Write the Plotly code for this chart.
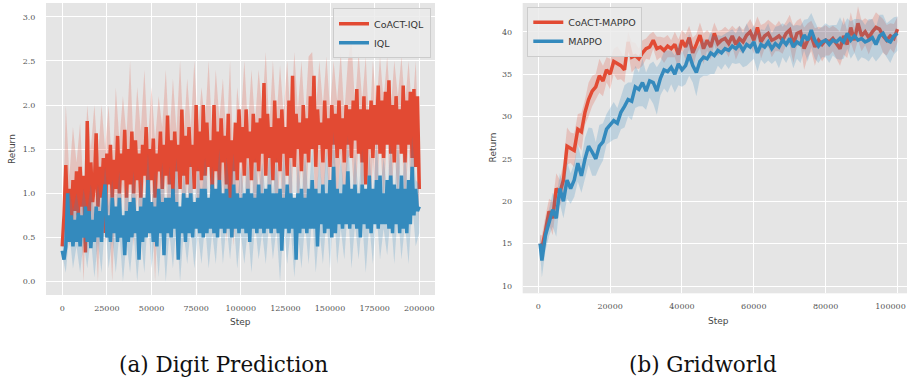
import plotly.graph_objects as go

# ---------------- Panel (a): Digit Prediction ----------------
dp_steps = [i * 1000 for i in range(201)]       # line samples
dp_band_steps = [i * 2000 for i in range(101)]  # band samples

coact_iql_mean = [
    0.40, 0.75, 1.32, 0.70, 1.05, 0.62, 1.15, 0.80, 1.25, 0.75, 1.30, 0.85, 1.20, 0.33, 1.82, 0.70, 1.35, 0.90, 1.10, 1.68,
    0.85, 1.30, 0.95, 1.40, 0.55, 1.45, 1.10, 1.55, 0.95, 1.38, 1.05, 1.65, 1.00, 1.45, 1.15, 1.72, 0.95, 1.50, 1.10, 1.70,
    1.00, 1.60, 1.15, 1.45, 0.95, 1.55, 1.20, 1.75, 1.05, 1.50, 1.15, 1.62, 0.95, 1.45, 1.25, 1.70, 1.05, 1.55, 1.20, 1.88,
    1.10, 1.60, 1.00, 1.70, 1.25, 1.55, 1.05, 1.95, 1.20, 1.65, 1.10, 1.75, 1.30, 1.55, 1.05, 2.00, 1.25, 1.70, 1.15, 2.00,
    1.20, 1.80, 1.30, 1.60, 1.05, 2.00, 1.25, 1.70, 1.15, 1.85, 1.35, 1.65, 1.10, 1.90, 0.70, 1.60, 1.25, 1.80, 1.15, 1.95,
    1.35, 1.75, 1.20, 1.95, 1.40, 1.70, 1.15, 1.90, 1.35, 1.80, 1.25, 1.85, 1.45, 2.25, 1.20, 1.90, 1.40, 1.75, 1.15, 2.05,
    1.35, 1.85, 1.25, 1.95, 1.45, 1.75, 1.20, 2.05, 1.40, 2.33, 1.30, 1.90, 1.50, 1.80, 1.25, 2.00, 1.45, 1.85, 1.35, 2.10,
    1.50, 2.33, 1.30, 1.95, 1.55, 1.80, 1.35, 2.05, 1.50, 1.85, 1.30, 2.00, 1.55, 1.90, 1.40, 2.05, 1.50, 1.85, 1.35, 2.00,
    1.55, 1.95, 1.40, 2.05, 1.60, 2.18, 1.45, 1.95, 1.35, 2.10, 1.10, 1.95, 1.50, 2.05, 1.40, 2.00, 1.55, 2.22, 1.45, 2.05,
    1.40, 2.15, 1.55, 2.28, 1.45, 2.00, 1.35, 2.10, 1.55, 1.95, 1.45, 2.22, 1.35, 2.05, 1.55, 2.15, 1.40, 2.18, 1.30, 2.10,
    1.05,
]
coact_iql_upper = [
    0.45, 2.00, 1.20, 1.75, 1.35, 1.80, 1.00, 2.00, 1.50, 2.00,
    1.40, 2.00, 1.50, 2.00, 1.20, 2.20, 1.60, 2.10, 1.65, 2.50,
    1.50, 2.20, 1.70, 2.40, 1.60, 2.20, 1.60, 2.10, 1.75, 2.40,
    1.60, 2.30, 1.70, 2.50, 1.65, 2.30, 1.75, 2.50, 1.70, 2.20,
    1.80, 2.50, 1.65, 2.40, 1.85, 2.30, 1.60, 2.50, 1.30, 2.20,
    1.80, 2.50, 1.75, 2.40, 1.80, 2.40, 1.95, 2.60, 1.75, 2.50,
    1.85, 2.45, 1.90, 2.50, 1.80, 2.60, 1.95, 2.50, 1.85, 2.55,
    2.60, 1.90, 2.50, 2.00, 2.55, 1.95, 2.50, 2.05, 2.60, 1.90,
    2.50, 2.75, 2.00, 2.60, 2.05, 2.55, 1.70, 2.50, 2.00, 2.55,
    2.05, 2.55, 1.95, 2.50, 2.10, 2.55, 2.00, 2.50, 1.90, 2.50,
    1.40,
]
coact_iql_lower = [
    0.35, 0.70, 0.40, 0.60, 0.45, 0.75, 0.00, 1.30, 0.40, 0.80,
    0.00, 1.10, 0.45, 0.80, 0.00, 1.00, 0.50, 1.10, 0.55, 1.15,
    0.40, 1.00, 0.55, 1.20, 0.50, 1.05, 0.00, 1.05, 0.60, 1.20,
    0.45, 1.10, 0.55, 1.30, 0.50, 1.15, 0.60, 1.40, 0.55, 1.05,
    0.65, 1.45, 0.50, 1.25, 0.70, 1.15, 0.45, 1.35, 0.40, 1.00,
    0.65, 1.40, 0.60, 1.30, 0.65, 1.25, 0.80, 1.70, 0.60, 1.35,
    0.70, 1.30, 0.75, 1.35, 0.65, 1.75, 0.80, 1.40, 0.70, 1.45,
    1.75, 0.75, 1.40, 0.85, 1.45, 0.80, 1.35, 0.90, 1.45, 0.75,
    1.40, 1.45, 0.85, 1.60, 0.90, 1.50, 0.55, 1.40, 0.85, 1.65,
    0.90, 1.70, 0.80, 1.50, 0.95, 1.65, 0.85, 1.55, 0.75, 1.60,
    0.60,
]
iql_mean = [
    0.35, 0.25, 0.40, 1.00, 0.45, 0.75, 0.40, 0.70, 0.45, 0.78, 0.40, 0.75, 0.50, 0.85, 0.45, 0.80, 0.38, 0.70, 0.45, 0.85,
    0.50, 0.80, 0.45, 0.95, 1.10, 0.50, 0.75, 0.45, 0.95, 0.55, 0.85, 0.45, 0.95, 0.50, 0.75, 0.30, 0.80, 0.45, 0.90, 0.50,
    0.95, 0.55, 0.80, 0.25, 0.85, 0.45, 0.95, 0.50, 1.15, 0.55, 0.90, 0.45, 0.85, 0.40, 1.05, 0.55, 0.90, 0.30, 0.95, 0.55,
    0.95, 0.50, 1.05, 0.60, 0.90, 0.25, 0.85, 0.55, 1.00, 0.45, 0.95, 0.55, 1.00, 0.50, 0.90, 0.60, 0.95, 0.55, 1.05, 0.50,
    1.05, 0.55, 0.95, 0.60, 1.10, 0.55, 1.05, 0.50, 1.15, 0.60, 1.00, 0.55, 1.05, 0.60, 0.95, 0.50, 1.10, 0.60, 1.00, 0.55,
    0.95, 0.60, 1.00, 0.55, 1.05, 0.45, 1.00, 0.60, 0.95, 0.55, 1.10, 0.60, 1.00, 0.55, 1.05, 0.60, 1.10, 0.55, 1.00, 0.60,
    1.00, 0.55, 1.05, 0.35, 0.95, 0.60, 1.10, 0.55, 1.00, 0.60, 0.95, 0.25, 1.00, 0.55, 1.05, 0.60, 0.95, 0.55, 1.05, 0.60,
    1.15, 0.60, 1.05, 0.40, 1.00, 0.65, 1.10, 0.55, 1.00, 0.60, 1.15, 0.50, 1.30, 0.55, 1.05, 0.65, 1.00, 0.60, 1.10, 0.65,
    1.25, 0.60, 1.05, 0.65, 1.10, 0.60, 1.00, 0.50, 1.10, 0.65, 1.05, 0.60, 1.20, 0.55, 1.05, 0.65, 1.15, 0.60, 1.20, 0.65,
    1.00, 0.65, 1.15, 0.60, 1.20, 0.55, 1.10, 0.65, 1.05, 0.55, 1.20, 0.60, 1.05, 0.55, 1.15, 0.65, 1.30, 0.75, 1.05, 0.80,
    0.85,
]
iql_upper = [
    0.40, 0.60, 1.05, 0.80, 1.00, 0.75, 1.05, 0.80, 1.10, 0.75,
    1.10, 0.80, 1.30, 0.85, 1.15, 0.80, 1.25, 0.70, 1.10, 0.85,
    1.25, 0.70, 1.20, 0.80, 1.45, 0.85, 1.25, 0.80, 1.35, 0.75,
    1.30, 0.90, 1.40, 0.70, 1.25, 0.90, 1.35, 0.85, 1.30, 0.95,
    1.40, 0.90, 1.30, 0.95, 1.50, 0.90, 1.40, 1.00, 1.45, 0.90,
    1.30, 0.95, 1.40, 0.85, 1.40, 1.00, 1.35, 0.95, 1.45, 1.00,
    1.40, 0.80, 1.45, 0.95, 1.40, 0.70, 1.35, 0.95, 1.45, 0.95,
    1.55, 0.85, 1.40, 0.95, 1.50, 0.90, 1.70, 0.95, 1.40, 1.00,
    1.65, 0.90, 1.45, 1.00, 1.50, 0.85, 1.45, 0.95, 1.60, 1.00,
    1.40, 1.05, 1.55, 0.95, 1.60, 1.00, 1.45, 0.95, 1.65, 1.15,
    1.10,
]
iql_lower = [
    0.30, 0.10, 0.55, 0.15, 0.40, 0.10, 0.45, 0.15, 0.50, 0.05,
    0.45, 0.10, 0.70, 0.15, 0.50, 0.10, 0.55, 0.00, 0.45, 0.10,
    0.55, 0.00, 0.50, 0.10, 0.75, 0.15, 0.55, 0.05, 0.65, 0.00,
    0.55, 0.15, 0.65, 0.00, 0.55, 0.20, 0.60, 0.15, 0.55, 0.20,
    0.65, 0.15, 0.55, 0.20, 0.75, 0.20, 0.65, 0.25, 0.70, 0.15,
    0.55, 0.20, 0.60, 0.10, 0.65, 0.25, 0.55, 0.20, 0.70, 0.25,
    0.60, 0.00, 0.65, 0.20, 0.60, 0.05, 0.55, 0.15, 0.65, 0.20,
    0.75, 0.10, 0.60, 0.20, 0.70, 0.15, 0.90, 0.20, 0.60, 0.25,
    0.85, 0.15, 0.65, 0.25, 0.70, 0.10, 0.65, 0.20, 0.80, 0.25,
    0.60, 0.30, 0.75, 0.20, 0.80, 0.25, 0.65, 0.20, 0.90, 0.40,
    0.55,
]

# ---------------- Panel (b): Gridworld ----------------
gw_steps = [500] + [i * 1000 for i in range(1, 101)]

coact_mappo_mean = [
    15.0, 14.5, 16.5, 18.8, 18.0, 21.5, 21.0, 22.5, 26.5, 26.3,
    26.0, 28.5, 28.2, 30.5, 32.0, 33.0, 33.5, 34.8, 34.2, 35.5,
    35.0, 36.5, 36.3, 36.0, 35.5, 38.8, 37.0, 37.2, 36.8, 37.5,
    38.0, 38.2, 39.0, 38.0, 38.2, 37.8, 38.3, 38.0, 38.5, 37.3,
    39.0, 38.2, 39.3, 37.5, 38.5, 39.6, 38.0, 39.0, 38.2, 39.8,
    38.6, 39.0, 39.2, 38.6, 39.5, 38.5, 39.2, 38.8, 39.6, 40.0,
    39.0, 40.5, 38.8, 39.5, 39.8, 39.0, 39.2, 39.5, 39.0, 39.8,
    40.2, 38.5, 39.8, 40.0, 38.0, 39.0, 39.5, 38.2, 39.0, 38.5,
    39.0, 38.8, 39.2, 38.6, 38.0, 39.5, 38.5, 40.5, 39.0, 41.0,
    39.5, 40.0, 39.3, 40.0, 40.5, 40.3, 39.5, 39.0, 39.5, 39.2,
    40.3,
]
coact_mappo_spread = [
    1.0, 1.5, 1.8, 1.5, 2.0, 1.8, 1.5, 2.0, 2.2, 1.8,
    2.0, 1.8, 2.2, 1.5, 2.0, 1.8, 1.5, 2.0, 1.8, 1.5,
    1.8, 1.5, 2.0, 1.6, 1.5, 1.2, 1.8, 1.5, 1.2, 1.5,
    1.2, 1.5, 1.0, 1.4, 1.2, 1.5, 1.3, 1.0, 1.5, 1.8,
    1.2, 1.5, 1.4, 1.8, 1.2, 1.5, 1.8, 1.2, 1.5, 1.3,
    1.5, 1.2, 1.4, 1.6, 1.2, 1.8, 1.5, 1.4, 1.2, 1.5,
    1.6, 1.3, 2.0, 1.5, 1.6, 2.0, 1.5, 1.8, 1.6, 1.4,
    1.8, 2.2, 1.5, 1.6, 2.5, 2.0, 1.8, 2.2, 1.6, 2.0,
    1.8, 1.6, 1.5, 1.8, 2.0, 2.2, 1.6, 1.8, 1.5, 2.0,
    1.8, 1.6, 2.0, 1.5, 1.8, 1.6, 2.0, 1.8, 1.5, 1.7,
    1.5,
]
mappo_mean = [
    15.0, 13.0, 16.0, 17.5, 19.0, 18.0, 21.5, 20.0, 22.5, 21.5,
    22.5, 24.5, 23.0, 25.0, 26.5, 25.8, 25.0, 26.5, 27.0, 28.5,
    29.0, 29.5, 29.2, 30.5, 31.2, 32.0, 31.8, 33.5, 33.2, 34.0,
    33.0, 34.2, 34.0, 33.0, 34.5, 35.5, 35.3, 35.8, 35.0, 36.2,
    35.5, 36.0, 37.3, 36.0, 35.2, 36.5, 37.0, 36.8, 37.5, 37.2,
    37.8, 37.5, 38.0, 37.8, 38.3, 38.0, 38.5, 37.8, 38.5, 38.2,
    38.8, 37.5, 38.5, 38.2, 38.8, 38.0, 38.6, 38.2, 39.0, 38.5,
    39.2, 38.2, 38.8, 38.5, 39.6, 39.0, 40.2, 39.0, 38.3, 38.8,
    39.0, 38.5, 39.0, 38.8, 39.2, 38.8, 39.8, 39.0, 39.5, 39.0,
    39.2, 38.8, 39.0, 39.3, 38.5, 39.5, 39.8, 39.0, 38.8, 39.5,
    39.8,
]
mappo_spread = [
    1.2, 2.0, 1.8, 1.6, 2.0, 2.2, 1.8, 2.0, 2.2, 1.8,
    2.0, 2.2, 2.0, 2.5, 2.2, 2.8, 2.0, 2.5, 2.2, 1.8,
    2.0, 2.2, 1.8, 2.0, 2.5, 2.0, 2.2, 2.5, 2.0, 2.8,
    2.2, 2.0, 2.5, 2.8, 2.0, 2.2, 2.5, 2.0, 2.2, 2.5,
    2.0, 2.2, 2.5, 2.0, 2.8, 2.0, 2.2, 2.0, 2.5, 2.2,
    1.8, 2.0, 1.8, 2.2, 2.0, 1.8, 2.2, 2.0, 2.5, 1.8,
    2.0, 2.2, 1.8, 2.0, 2.2, 1.8, 2.0, 2.5, 2.0, 2.2,
    2.0, 2.5, 2.0, 2.2, 1.8, 2.5, 2.0, 2.2, 2.0, 1.8,
    2.0, 2.2, 1.8, 2.0, 2.5, 2.0, 1.8, 2.2, 2.0, 2.5,
    2.2, 2.0, 2.5, 2.2, 2.0, 2.5, 2.2, 2.0, 2.5, 2.2,
    2.0,
]

dp_xticks = [0, 25000, 50000, 75000, 100000, 125000, 150000, 175000, 200000]
dp_yticks = [0.0, 0.5, 1.0, 1.5, 2.0, 2.5, 3.0]
gw_xticks = [0, 20000, 40000, 60000, 80000, 100000]
gw_last_xtick = [100000]
gw_yticks = [10, 15, 20, 25, 30, 35, 40]

RED = "#E24A33"
BLUE = "#348ABD"
RED_BAND = "rgba(226,74,51,0.22)"
BLUE_BAND = "rgba(52,138,189,0.22)"

W, H = 907, 379
fig = go.Figure()


def band(x, lo, hi, color, xa, ya):
    fig.add_trace(go.Scatter(x=x, y=hi, mode="lines", line=dict(width=0),
                             hoverinfo="skip", showlegend=False, xaxis=xa, yaxis=ya))
    fig.add_trace(go.Scatter(x=x, y=lo, mode="lines", line=dict(width=0),
                             fill="tonexty", fillcolor=color,
                             hoverinfo="skip", showlegend=False, xaxis=xa, yaxis=ya))


# Panel (a)
band(dp_band_steps, coact_iql_lower, coact_iql_upper, RED_BAND, "x", "y")
fig.add_trace(go.Scatter(x=dp_steps, y=coact_iql_mean, mode="lines", name="CoACT-IQL",
                         line=dict(color=RED, width=3.5), legend="legend"))
band(dp_band_steps, iql_lower, iql_upper, BLUE_BAND, "x", "y")
fig.add_trace(go.Scatter(x=dp_steps, y=iql_mean, mode="lines", name="IQL",
                         line=dict(color=BLUE, width=3.5), legend="legend"))

# Panel (b)
band(gw_steps, [m - s for m, s in zip(coact_mappo_mean, coact_mappo_spread)],
     [m + s for m, s in zip(coact_mappo_mean, coact_mappo_spread)], RED_BAND, "x2", "y2")
fig.add_trace(go.Scatter(x=gw_steps, y=coact_mappo_mean, mode="lines", name="CoACT-MAPPO",
                         line=dict(color=RED, width=3.5), xaxis="x2", yaxis="y2", legend="legend2"))
band(gw_steps, [m - s for m, s in zip(mappo_mean, mappo_spread)],
     [m + s for m, s in zip(mappo_mean, mappo_spread)], BLUE_BAND, "x2", "y2")
fig.add_trace(go.Scatter(x=gw_steps, y=mappo_mean, mode="lines", name="MAPPO",
                         line=dict(color=BLUE, width=3.5), xaxis="x2", yaxis="y2", legend="legend2"))
# empty trace registering the overlay axis that carries the last (edge) tick label
fig.add_trace(go.Scatter(x=[], y=[], mode="lines", showlegend=False, hoverinfo="skip",
                         xaxis="x3", yaxis="y2"))

tickfont = dict(family="DejaVu Serif", size=8, color="#555555")
common_axis = dict(showgrid=True, gridcolor="white", gridwidth=1.2, zeroline=False,
                   showline=False, ticks="outside", tickcolor="rgba(0,0,0,0)",
                   tickfont=tickfont)
x_axis_style = dict(ticklen=5, **common_axis)
y_axis_style = dict(ticklen=8, **common_axis)


def px_x(p):
    return p / W


def px_y(p):
    return 1 - p / H


legend_style = dict(bgcolor="rgba(235,235,235,0.85)", bordercolor="#CCCCCC", borderwidth=1,
                    font=dict(family="DejaVu Sans", size=9.5, color="#333333"),
                    tracegroupgap=0, itemwidth=30, traceorder="normal")

gw_xrange = [-4343, 102645]

fig.update_layout(
    width=W, height=H,
    margin=dict(l=0, r=0, t=0, b=0),
    paper_bgcolor="white",
    plot_bgcolor="#E5E5E5",
    xaxis=dict(domain=[px_x(46), px_x(435)], range=[-9100, 208800],
               tickvals=dp_xticks, ticktext=[str(v) for v in dp_xticks], anchor="y", **x_axis_style),
    yaxis=dict(domain=[px_y(295), px_y(3)], range=[-0.151, 3.155], tickvals=dp_yticks,
               ticktext=["%.1f" % v for v in dp_yticks], anchor="x", **y_axis_style),
    xaxis2=dict(domain=[px_x(522.7), 1.0], range=gw_xrange,
                tickvals=gw_xticks,
                ticktext=[str(v) if v not in gw_last_xtick else "" for v in gw_xticks],
                anchor="y2", **x_axis_style),
    xaxis3=dict(domain=[px_x(522.7), 1.0], range=gw_xrange, overlaying="x2", anchor="y2",
                tickvals=gw_last_xtick, ticktext=[str(v) for v in gw_last_xtick],
                ticklabelshift=-7, **dict(x_axis_style, showgrid=False)),
    yaxis2=dict(domain=[px_y(293.3), px_y(3)], range=[9.14, 43.39], tickvals=gw_yticks,
                ticktext=[str(v) for v in gw_yticks], anchor="x2", **y_axis_style),
    legend=dict(x=px_x(431), y=px_y(8.3), xanchor="right", yanchor="top", **legend_style),
    legend2=dict(x=px_x(527.3), y=px_y(6.7), xanchor="left", yanchor="top", **legend_style),
    showlegend=True,
)

label_font = dict(family="DejaVu Sans", size=9, color="#444444")
annots = [
    dict(text="Step", x=px_x(240.5), y=px_y(321.7), font=label_font),
    dict(text="Step", x=px_x(718.7), y=px_y(320.7), font=label_font),
    dict(text="Return", x=px_x(12.7), y=px_y(149.3), font=label_font, textangle=-90),
    dict(text="Return", x=px_x(492.7), y=px_y(147.7), font=label_font, textangle=-90),
    dict(text="(a) Digit Prediction", x=px_x(223.3), y=px_y(364.5),
         font=dict(family="DejaVu Serif", size=21.5, color="#111111")),
    dict(text="(b) Gridworld", x=px_x(703), y=px_y(364.5),
         font=dict(family="DejaVu Serif", size=21.5, color="#111111")),
]
for a in annots:
    fig.add_annotation(xref="paper", yref="paper", showarrow=False,
                       xanchor="center", yanchor="middle", **a)

page_js = (
    "document.documentElement.style.overflow='hidden';"
    "document.body.style.margin='0';"
    "document.body.style.overflow='hidden';"
)
fig.write_html("out.html", config={"displayModeBar": False}, post_script=page_js)
